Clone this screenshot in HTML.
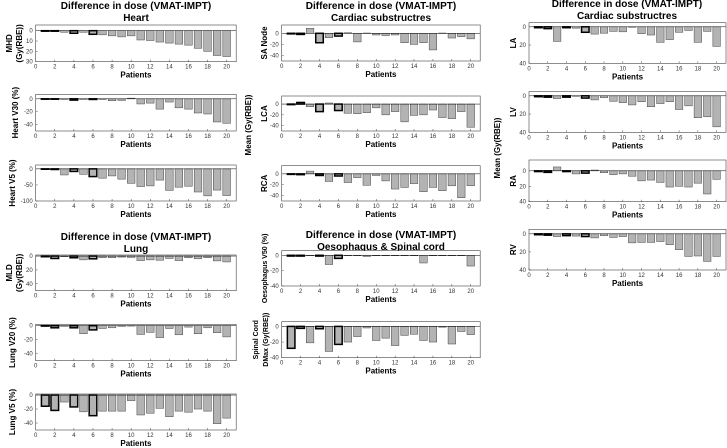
<!DOCTYPE html>
<html><head><meta charset="utf-8"><style>
html,body{margin:0;padding:0;background:#fff;}
svg{display:block;font-family:"Liberation Sans",Arial,sans-serif;}
</style></head><body>
<svg id="fig" width="727" height="448" viewBox="0 0 727 448" xmlns="http://www.w3.org/2000/svg">
<g font-weight="bold" font-size="10" text-anchor="middle" fill="#000">
<text x="136" y="9">Difference in dose (VMAT-IMPT)</text>
<text x="136" y="21">Heart</text>
<text x="136" y="240">Difference in dose (VMAT-IMPT)</text>
<text x="136" y="252">Lung</text>
<text x="381" y="9">Difference in dose (VMAT-IMPT)</text>
<text x="381" y="21">Cardiac substructres</text>
<text x="381" y="238">Difference in dose (VMAT-IMPT)</text>
<text x="381" y="250">Oesophagus &amp; Spinal cord</text>
<text x="627" y="7">Difference in dose (VMAT-IMPT)</text>
<text x="627" y="19">Cardiac substructres</text>
</g>
<g font-weight="bold" font-size="8" text-anchor="middle">
<text transform="translate(251,125) rotate(-90)">Mean (Gy(RBE))</text>
<text transform="translate(500,148) rotate(-90)">Mean (Gy(RBE))</text>
</g>
</svg>
<script>
const patients = [1,2,3,4,5,6,7,8,9,10,11,12,13,14,15,16,17,18,19,20];
const highlighted = [1,2,4,6];
const mhd = [-0.5,-0.5,-1.5,-2.5,-1.5,-3.5,-4,-5,-6,-5,-9,-9.5,-11,-12,-13,-14,-17,-20,-24,-25];
const heartV30 = [-0.5,-0.5,-1,-2,-1,-1,-1,-3,-2.5,1,-8,-6.7,-16,-5,-14,-16,-22,-23.6,-36,-38];
const heartV5 = [-1,-2,-19,-8,-17,-24,-29,-22,-32,-45,-55,-53,-35,-67,-57,-54,-72,-84,-66,-83];
const mld = [-1,-3.5,-1,-2.5,-5.5,-4,-2.5,-2.5,-1.5,-2,-6.5,-5.5,-6,-3.5,-6.5,-2.5,-4,-2.5,-7,-8.5];
const lungV20 = [-0.5,-3,-1,-3,-11.5,-6,-4,-3,-1,0,-12.5,-9.5,-17,-4,-13,-2,-11.5,-3,-10,-16];
const lungV5 = [-16,-22,-10,-17,-24,-29.5,-23,-23,-23,-8,-28.5,-26,-19,-31,-23,-24.5,-20,-23,-41,-33];
const saNode = [-1,-2,9,-17,-8,-5,1,-15.5,0.5,-3,-4,-3,-17,-20,-17,-30,0.5,-8.5,-6,-10];
const lca = [-1,3,-5,-14,2,-12,-17,-18,-16,-7,-20,-14,-33,-21,-20,-11,-25,-27,-14,-43];
const rca = [-1,-1.5,5,-3,-14,-4,-16,-7,-21,-3,-13,-28,-25,-18,-33,-25,-31,-22,-44,-22];
const oesoV50 = [-1,-1,0,-1,-12,-4,0,0,-1.5,0,0,-0.5,0,0,-10,0,0,0,0,-14];
const spinalDmax = [-28,-2.5,-21,-3,-32,-23,-20,-13,-2,-18,-15,-24.5,-11.5,-10,-18,-20,-1,-22.5,-6.5,-10.5];
const la = [-1,-2,-16,-1,-1.5,-6,-8,-7,-5,-5.5,-0.5,-7.5,-9,-17,-14,-6,-4,-17,-5,-21.5];
const lv = [-1,-1.5,-3,-1.5,-0.5,-2.5,-4.5,-2,-6,-7.5,-10,-6.5,-12,-8.5,-6.5,-15,-11,-24,-23,-34];
const ra = [-1,-2,5,-1,-4,-3,1,-2.5,-5,-4,-7,-13,-12,-15,-21,-20,-21,-16,-30,-11];
const rv = [-1,-1.5,-3,-2,-2.5,-3,-4.5,-2,-4,-3,-10,-9.5,-9.5,-8.5,-12,-17.5,-25,-24.5,-30.5,-25];
const xTicks = [0,2,4,6,8,10,12,14,16,18,20];
const ticks20 = [0,-20,-40];
const ticks10 = [0,-10,-20,-30];
const ticks50 = [0,-50,-100];

const NS='http://www.w3.org/2000/svg';
const svg=document.getElementById('fig');
function mk(tag,attrs,parent){const e=document.createElementNS(NS,tag);for(const k in attrs)e.setAttribute(k,attrs[k]);parent.appendChild(e);return e;}

const panels=[
 {id:'mhd',vals:mhd,l:35.7,r:236.2,t:25,b:61.7,ymin:-30,ymax:5.5,ticks:ticks10,neg:false,yl:['MHD','(Gy(RBE))'],ylx:[9,19],fs:8},
 {id:'heart-v30',vals:heartV30,l:35.7,r:236.2,t:94.3,b:131,ymin:-50,ymax:7,ticks:ticks20,neg:true,yl:['Heart V30 (%)'],ylx:[15],fs:8},
 {id:'heart-v5',vals:heartV5,l:35.7,r:236.2,t:165,b:201,ymin:-100,ymax:12,ticks:ticks50,neg:true,yl:['Heart V5 (%)'],ylx:[12],fs:8},
 {id:'mld',vals:mld,l:35.7,r:236.2,t:255,b:290.7,ymin:-50,ymax:1.5,ticks:ticks20,neg:false,yl:['MLD','(Gy(RBE))'],ylx:[9,19],fs:8},
 {id:'lung-v20',vals:lungV20,l:35.7,r:236.2,t:324.3,b:360.7,ymin:-50,ymax:2,ticks:ticks20,neg:true,yl:['Lung V20 (%)'],ylx:[12],fs:8},
 {id:'lung-v5',vals:lungV5,l:35.7,r:236.2,t:394,b:430,ymin:-50,ymax:1.5,ticks:ticks20,neg:true,yl:['Lung V5 (%)'],ylx:[12],fs:8},
 {id:'sa-node',vals:saNode,l:281.7,r:480.2,t:25,b:61,ymin:-50,ymax:15,ticks:ticks20,neg:true,yl:['SA Node'],ylx:[264],fs:8},
 {id:'lca',vals:lca,l:281.7,r:480.2,t:96,b:131,ymin:-50,ymax:15,ticks:ticks20,neg:true,yl:['LCA'],ylx:[264],fs:8},
 {id:'rca',vals:rca,l:281.7,r:480.2,t:165.7,b:201,ymin:-50,ymax:15,ticks:ticks20,neg:true,yl:['RCA'],ylx:[264],fs:8},
 {id:'oeso-v50',vals:oesoV50,l:281.7,r:480.2,t:250.7,b:286,ymin:-40,ymax:6,ticks:ticks20,neg:true,yl:['Oesophagus V50 (%)'],ylx:[264],fs:7},
 {id:'spinal-dmax',vals:spinalDmax,l:281.7,r:480.2,t:321.7,b:357.7,ymin:-40,ymax:6,ticks:ticks20,neg:true,yl:['Spinal Cord','DMax (Gy(RBE))'],ylx:[255,265],fs:7},
 {id:'la',vals:la,l:529,r:726,t:22.7,b:63.3,ymin:-40,ymax:4.5,ticks:ticks20,neg:false,yl:['LA'],ylx:[513],fs:8},
 {id:'lv',vals:lv,l:529,r:726,t:91.7,b:132.3,ymin:-40,ymax:4.5,ticks:ticks20,neg:false,yl:['LV'],ylx:[513],fs:8},
 {id:'ra',vals:ra,l:529,r:726,t:160,b:201.7,ymin:-40,ymax:14,ticks:ticks20,neg:false,yl:['RA'],ylx:[513],fs:8},
 {id:'rv',vals:rv,l:529,r:726,t:229.3,b:270,ymin:-40,ymax:5,ticks:ticks20,neg:false,yl:['RV'],ylx:[513],fs:8}
];

panels.forEach(p=>{
 const g=mk('g',{},svg);
 
 
 const xs=v=>p.l+(v/21)*(p.r-p.l);
 const ys=v=>p.t+(p.ymax-v)/(p.ymax-p.ymin)*(p.b-p.t);
 mk('rect',{x:p.l,y:p.t,width:p.r-p.l,height:p.b-p.t,fill:'#fff',stroke:'none'},g);
 p.vals.forEach((v,i)=>{
  const pt=patients[i];
  const hl=highlighted.indexOf(pt)>=0;
  const y0=ys(0),y1=ys(v);
  const r=mk('rect',{x:xs(pt-0.4),y:Math.min(y0,y1),width:xs(pt+0.4)-xs(pt-0.4),height:Math.max(Math.abs(y1-y0),0.4),fill:'#b3b3b3',stroke:hl?'#000':'#444','stroke-width':hl?1.5:0.5},g);
  
  
 });
 mk('line',{x1:p.l,x2:p.r,y1:ys(0),y2:ys(0),stroke:'#000','stroke-width':0.5},g);
 mk('rect',{x:p.l,y:p.t,width:p.r-p.l,height:p.b-p.t,fill:'none',stroke:'#444','stroke-width':0.6},g);
 xTicks.forEach(t=>{
  mk('line',{x1:xs(t),x2:xs(t),y1:p.b,y2:p.b-2,stroke:'#444','stroke-width':0.5},g);
  const tx=mk('text',{x:xs(t),y:p.b+7,'font-size':6,'text-anchor':'middle',fill:'#333'},g);
  tx.textContent=t;
  
  
 });
 p.ticks.forEach(t=>{
  mk('line',{x1:p.l,x2:p.l+2,y1:ys(t),y2:ys(t),stroke:'#444','stroke-width':0.5},g);
  const tx=mk('text',{x:p.l-3,y:ys(t)+2,'font-size':6,'text-anchor':'end',fill:'#333'},g);
  tx.textContent=p.neg?String(t):String(Math.abs(t));
  
  
 });
 const xl=mk('text',{x:(p.l+p.r)/2,y:p.b+16,'font-size':8,'font-weight':'bold','text-anchor':'middle'},g);
 xl.textContent='Patients';
 
 
 p.yl.forEach((s,k)=>{
  const cy=(p.t+p.b)/2;
  const yl=mk('text',{transform:'translate('+(p.ylx[k]+3)+','+cy+') rotate(-90)','font-size':p.fs,'font-weight':'bold','text-anchor':'middle'},g);
  yl.textContent=s;
  
  
 });
});
</script>
</body></html>
